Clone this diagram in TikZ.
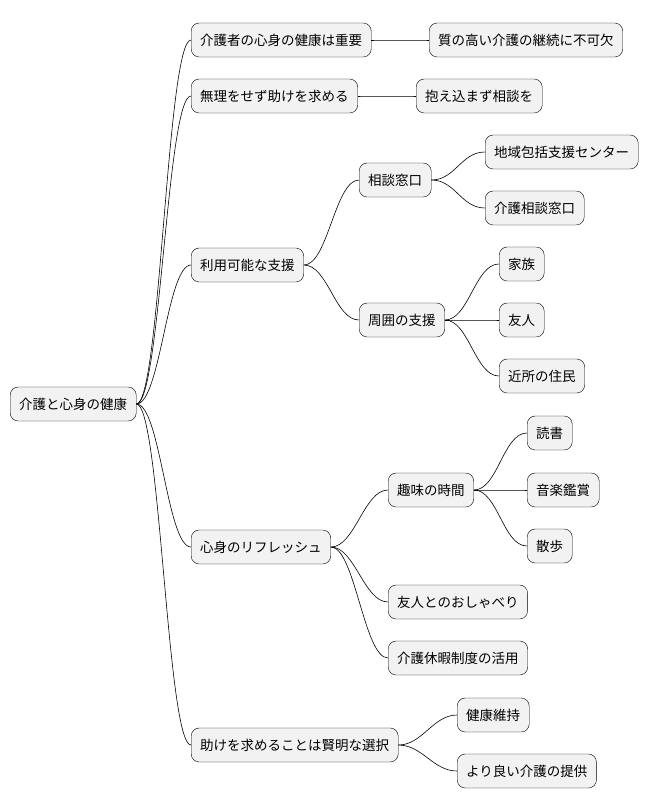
\documentclass[tikz,border=0pt]{standalone}
\usepackage{fontspec}
\setmainfont{Noto Sans CJK JP}
\begin{document}
\begin{tikzpicture}[x=1pt,y=-1pt,
    topic/.style={draw, fill=black!5, rounded corners=8pt, anchor=west,
        minimum height=34pt, inner xsep=9pt, font=\fontsize{13.5}{16}\selectfont},
    link/.style={line width=0.6pt}]
    \useasboundingbox (0,0) rectangle (656,809);

    % Root
    \node[topic] (root) at (10,404) {介護と心身の健康};

    % First level
    \node[topic] (imp)  at (191,40)  {介護者の心身の健康は重要};
    \node[topic] (ask)  at (191,96)  {無理をせず助けを求める};
    \node[topic] (sup)  at (191,265) {利用可能な支援};
    \node[topic] (ref)  at (191,547) {心身のリフレッシュ};
    \node[topic] (wise) at (191,745) {助けを求めることは賢明な選択};

    % Second level
    \node[topic] (qual)  at (429,40)  {質の高い介護の継続に不可欠};
    \node[topic] (talk)  at (416,96)  {抱え込まず相談を};
    \node[topic] (desk)  at (359,180) {相談窓口};
    \node[topic] (near)  at (359,320) {周囲の支援};
    \node[topic] (hobby) at (388,490) {趣味の時間};
    \node[topic] (chat)  at (388,602) {友人とのおしゃべり};
    \node[topic] (leave) at (388,658) {介護休暇制度の活用};
    \node[topic] (keep)  at (457,715) {健康維持};
    \node[topic] (better) at (457,771) {より良い介護の提供};

    % Third level
    \node[topic] (center) at (485,152) {地域包括支援センター};
    \node[topic] (cdesk)  at (485,208) {介護相談窓口};
    \node[topic] (fam)    at (499,264) {家族};
    \node[topic] (frd)    at (499,320) {友人};
    \node[topic] (nbr)    at (499,376) {近所の住民};
    \node[topic] (read)   at (527,433) {読書};
    \node[topic] (music)  at (527,490) {音楽鑑賞};
    \node[topic] (walk)   at (527,546) {散歩};

    % Draw edges
    \foreach \p/\c in {root/imp, root/ask, root/sup, root/ref, root/wise,
        imp/qual, ask/talk, sup/desk, sup/near, ref/hobby, ref/chat, ref/leave,
        wise/keep, wise/better, desk/center, desk/cdesk, near/fam, near/frd,
        near/nbr, hobby/read, hobby/music, hobby/walk} {
        \draw[link] (\p.east) .. controls +(24,0) and +(-24,0) .. (\c.west);
    }
\end{tikzpicture}
\end{document}
